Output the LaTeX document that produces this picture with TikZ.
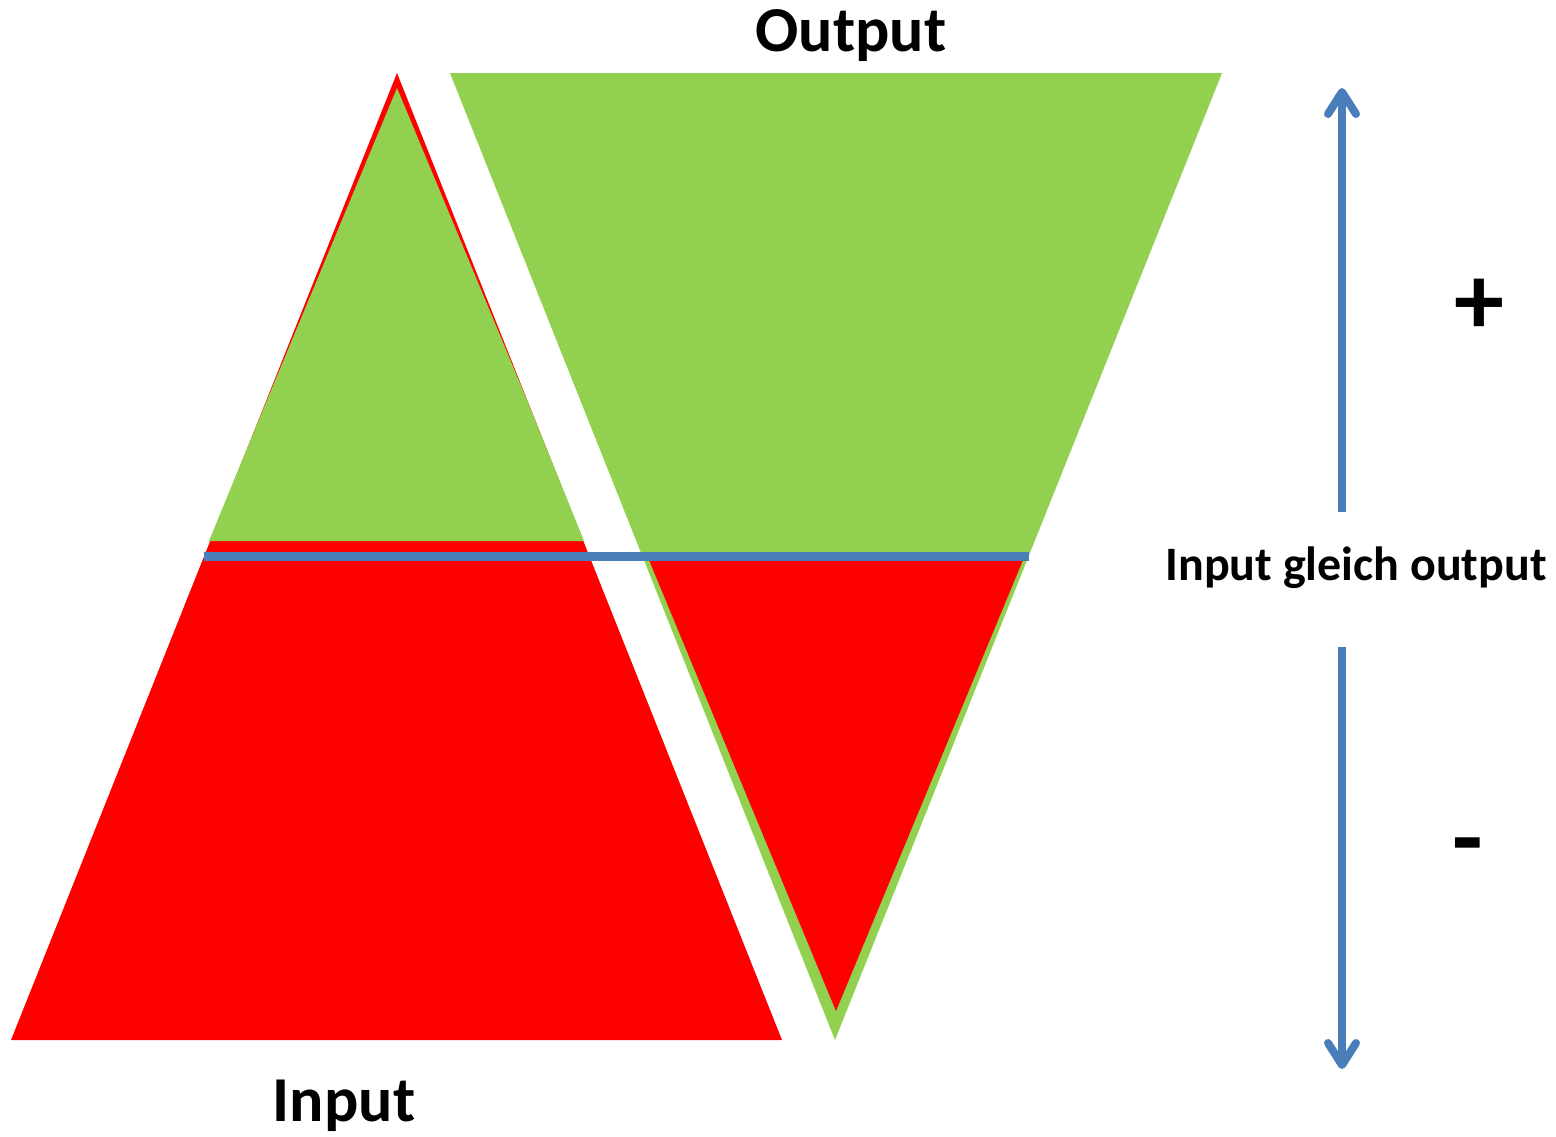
\documentclass[tikz,border=0pt]{standalone}
\usepackage{fontspec}
\setmainfont{Carlito}
\usetikzlibrary{arrows.meta}
\definecolor{myred}{RGB}{255,0,0}
\definecolor{mygreen}{RGB}{146,208,80}
\definecolor{myblue}{RGB}{74,126,187}
\tikzset{
  lbl/.style={font=\bfseries\fontsize{32}{36}\selectfont, inner sep=0pt},
  smalllbl/.style={font=\bfseries\fontsize{24}{28}\selectfont, inner sep=0pt},
  signlbl/.style={font=\bfseries\fontsize{50}{56}\selectfont, inner sep=0pt},
  flow/.style={draw=myblue, line width=4pt, -{Straight Barb[length=11pt,width=14pt,round]}},
}
\begin{document}
\begin{tikzpicture}[x=0.5pt,y=-0.5pt]
\useasboundingbox (0,0) rectangle (1556,1136);
% left pyramid (input)
\fill[myred] (397,73) -- (782,1040) -- (11,1040) -- cycle;
\fill[mygreen] (397,88) -- (527,400) -- (584,541) -- (209,541) -- (267,400) -- cycle;
% right inverted pyramid (output)
\fill[mygreen] (450,73) -- (1222,73) -- (835,1040) -- cycle;
\fill[myred] (649,560) -- (1023,560) -- (836,1011) -- cycle;
% equilibrium line
\coordinate (eqL) at (204,556.5);
\coordinate (eqR) at (1029,556.5);
\draw[myblue, line width=4.5pt] (eqL) -- (eqR);
% labels
\node[lbl, anchor=base] (out) at (851,51) {Output};
\node[lbl, anchor=base] (in) at (344,1121) {Input};
\node[smalllbl, anchor=base] (eq) at (1356,580) {Input gleich output};
\node[signlbl] (plus) at (1479,307) {+};
\node[signlbl] (minus) at (1468,855) {-};
% arrows
\coordinate (upS) at (1342,512);
\coordinate (upE) at (1342,88);
\coordinate (dnS) at (1342,647);
\coordinate (dnE) at (1342,1069);
\draw[flow] (upS) -- (upE);
\draw[flow] (dnS) -- (dnE);
\end{tikzpicture}
\end{document}
